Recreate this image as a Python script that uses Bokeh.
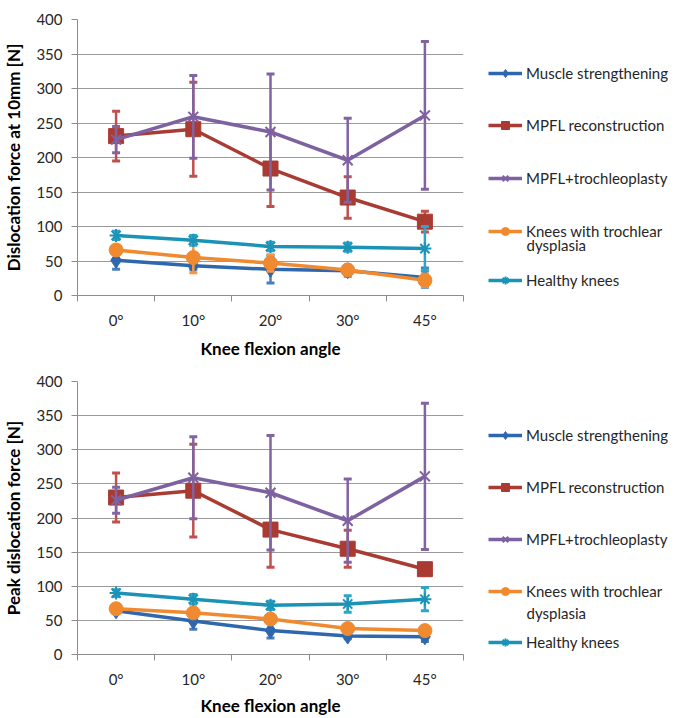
import numpy as np
from bokeh.plotting import figure
from bokeh.models import Range1d, FixedTicker, Legend, LegendItem, Label
from bokeh.layouts import column, row
from bokeh.embed import file_html
from bokeh.resources import INLINE

# ---------------- data ----------------
angles = ["0°", "10°", "20°", "30°", "45°"]
series_names = ["Muscle strengthening", "MPFL reconstruction", "MPFL+trochleoplasty",
                "Knees with trochlear", "Healthy knees"]
wrap_text = "dysplasia"

# Chart 1: dislocation force at 10 mm [N]
ms_10 = [51, 43, 38, 36, 26]
ms_10_err = [13, 5, 20, 8, 14]
mpfl_10 = [231, 241, 184, 142, 107]
mpfl_10_err = [36, 68, 55, 30, 15]
troch_10 = [226, 259, 237, 196, 261]
troch_10_err = [19, 60, 84, 61, 107]
dys_10 = [66, 55, 47, 37, 22]
dys_10_err = [4, 22, 12, 5, 9]
healthy_10 = [87, 80, 71, 70, 68]
healthy_10_err = [6, 7, 6, 6, 32]

# Chart 2: peak dislocation force [N]
ms_pk = [64, 49, 35, 27, 26]
ms_pk_err = [3, 12, 11, 4, 7]
mpfl_pk = [230, 240, 183, 155, 125]
mpfl_pk_err = [36, 68, 55, 27, 7]
troch_pk = [226, 259, 237, 196, 261]
troch_pk_err = [19, 60, 84, 61, 107]
dys_pk = [67, 61, 52, 38, 35]
dys_pk_err = [3, 3, 3, 3, 3]
healthy_pk = [90, 81, 72, 74, 81]
healthy_pk_err = [5, 7, 6, 12, 17]

y_ticks = [0, 50, 100, 150, 200, 250, 300, 350, 400]

# ---------------- style ----------------
line_colors = ["#2F67AE", "#A93B32", "#7E61A1", "#F08A30", "#1B93B6"]
err_colors = ["#4A7EBB", "#C0504D", "#8064A2", "#F79646", "#2CA6C8"]
markers = ["diamond", "square", "x", "circle", "asterisk"]
msizes = [16, 15, 14, 14, 13]
FONT = "Lato"
TXT = "#262626"


def style_common(p):
    p.outline_line_color = None


def add_series(p, i, x, y):
    rl = p.line(x=x, y=y, line_color=line_colors[i], line_width=3.5)
    if markers[i] in ("x", "asterisk"):
        rs = p.scatter(x=x, y=y, marker=markers[i], size=msizes[i],
                       line_color=line_colors[i], line_width=2)
    else:
        rs = p.scatter(x=x, y=y, marker=markers[i], size=msizes[i],
                       fill_color=line_colors[i], line_color=line_colors[i])
    return rl, rs


def make_fig(ylabel, vals, errs, height, btop, bbot, xl_standoff):
    n = len(angles)
    x = np.arange(n) + 0.5
    p = figure(width=471, height=height, x_range=Range1d(0, n), y_range=Range1d(0, 400),
               output_backend="svg", toolbar_location=None,
               min_border_left=77, min_border_right=8, min_border_top=btop,
               min_border_bottom=bbot)
    style_common(p)

    # y axis
    p.yaxis.ticker = FixedTicker(ticks=y_ticks)
    p.yaxis.major_tick_out = 6
    p.yaxis.major_tick_in = 0
    p.yaxis.minor_tick_line_color = None
    p.yaxis.major_tick_line_color = "#8C8C8C"
    p.yaxis.axis_line_color = "#8C8C8C"
    p.yaxis.major_label_standoff = 9
    p.yaxis.major_label_text_font = FONT
    p.yaxis.major_label_text_font_size = "15px"
    p.yaxis.major_label_text_color = TXT
    p.yaxis.axis_label = ylabel
    p.yaxis.axis_label_text_font = FONT
    p.yaxis.axis_label_text_font_size = "17px"
    p.yaxis.axis_label_text_font_style = "bold"
    p.yaxis.axis_label_text_color = "#000000"
    p.yaxis.axis_label_standoff = 9

    # x axis with tick marks between categories
    p.xaxis.ticker = FixedTicker(ticks=list(x), minor_ticks=list(range(n + 1)))
    p.xaxis.major_label_overrides = {float(xv): a for xv, a in zip(x, angles)}
    p.xaxis.major_tick_line_color = None
    p.xaxis.major_tick_out = 6
    p.xaxis.major_tick_in = 0
    p.xaxis.minor_tick_out = 6
    p.xaxis.minor_tick_in = 0
    p.xaxis.minor_tick_line_color = "#8C8C8C"
    p.xaxis.axis_line_color = "#8C8C8C"
    p.xaxis.major_label_standoff = 9
    p.xaxis.major_label_text_font = FONT
    p.xaxis.major_label_text_font_size = "15px"
    p.xaxis.major_label_text_color = TXT
    p.xaxis.axis_label = "Knee flexion angle"
    p.xaxis.axis_label_text_font = FONT
    p.xaxis.axis_label_text_font_size = "17px"
    p.xaxis.axis_label_text_font_style = "bold"
    p.xaxis.axis_label_text_color = "#000000"
    p.xaxis.axis_label_standoff = xl_standoff

    # grid
    p.xgrid.grid_line_color = None
    p.ygrid.ticker = FixedTicker(ticks=y_ticks)
    p.ygrid.grid_line_color = "#9A9A9A"
    p.ygrid.grid_line_width = 1

    for i, (v, e) in enumerate(zip(vals, errs)):
        v = np.array(v, dtype=float)
        e = np.array(e, dtype=float)
        lo, hi = v - e, v + e
        p.segment(x0=x, y0=lo, x1=x, y1=hi, line_color=err_colors[i], line_width=2.5)
        p.scatter(x=np.concatenate([x, x]), y=np.concatenate([lo, hi]), marker="dash",
                  size=8, line_color=err_colors[i], line_width=3)
        add_series(p, i, x, v)
    return p


def make_legend_fig(height, btop, bbot, centres, wrap_centre):
    lf = figure(width=207, height=height, x_range=Range1d(0, 1), y_range=Range1d(0, 1),
                output_backend="svg", toolbar_location=None,
                x_axis_location=None, y_axis_location=None,
                min_border_left=0, min_border_right=0, min_border_top=btop,
                min_border_bottom=bbot)
    style_common(lf)
    lf.grid.visible = False
    frame_bottom = height - bbot
    for i, name in enumerate(series_names):
        # placeholder renderers (NaN, nothing visible) used only for the legend swatches
        rl, rs = add_series(lf, i, [np.nan], [np.nan])
        leg = Legend(items=[LegendItem(label=name, renderers=[rl, rs])],
                     location=(17, frame_bottom - centres[i] - 10),
                     glyph_width=34, glyph_height=20, label_height=20,
                     label_standoff=4, padding=0, margin=0, spacing=0,
                     border_line_color=None, background_fill_alpha=0,
                     label_text_font=FONT, label_text_font_size="15px",
                     label_text_color=TXT)
        lf.add_layout(leg)
    lf.add_layout(Label(x=55, y=frame_bottom - wrap_centre, x_units="screen",
                        y_units="screen", text=wrap_text, text_baseline="middle",
                        text_font=FONT, text_font_size="15px", text_color=TXT))
    return lf


H1, H2 = 361, 357
p1 = make_fig("Dislocation force at 10mm [N]",
              [ms_10, mpfl_10, troch_10, dys_10, healthy_10],
              [ms_10_err, mpfl_10_err, troch_10_err, dys_10_err, healthy_10_err],
              height=H1, btop=19, bbot=64, xl_standoff=6)
p2 = make_fig("Peak dislocation force [N]",
              [ms_pk, mpfl_pk, troch_pk, dys_pk, healthy_pk],
              [ms_pk_err, mpfl_pk_err, troch_pk_err, dys_pk_err, healthy_pk_err],
              height=H2, btop=20, bbot=62, xl_standoff=4)
l1 = make_legend_fig(H1, 19, 64, [75, 127, 180, 233, 282], 246)
l2 = make_legend_fig(H2, 20, 62, [76, 128, 180, 232, 283], 253)

layout = column(row(p1, l1, spacing=0), row(p2, l2, spacing=0), spacing=0)
open("out.html", "w").write(file_html(layout, INLINE))
